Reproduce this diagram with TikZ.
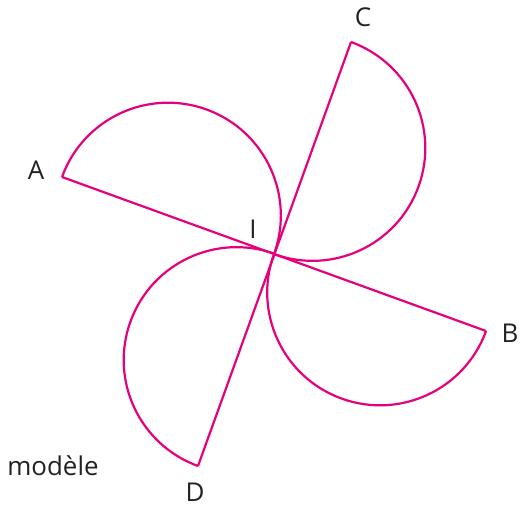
\documentclass[tikz,border=0pt]{standalone}
\usepackage{fontspec}
\setmainfont{Open Sans}
\definecolor{rose}{HTML}{E5007E}
\definecolor{ink}{HTML}{222222}
\begin{document}
\begin{tikzpicture}[x=1bp,y=-1bp,
  curve/.style={draw=rose,line width=2.2bp,line join=round},
  lab/.style={text=ink,font=\fontsize{26}{30}\selectfont,inner sep=0pt}]
\useasboundingbox (0,0) rectangle (520,506);
\coordinate (A) at (62,177);
\coordinate (B) at (486,331);
\coordinate (C) at (351,42);
\coordinate (D) at (198,466);
\coordinate (I) at (274,254);
% segments
\draw[curve] (A) -- (B);
\draw[curve] (C) -- (D);
% semicircles (angles measured with y pointing down, so signs flip)
\draw[curve] (A) arc[start angle=-160.04, end angle=19.96, radius=112.8];
\draw[curve] (I) arc[start angle=-160.04, end angle=-340.04, radius=112.8];
\draw[curve] (C) arc[start angle=-70.04, end angle=109.96, radius=112.8];
\draw[curve] (D) arc[start angle=-250.04, end angle=-70.04, radius=112.8];
% labels
\node[lab] (lA) at (36,170) {A};
\node[lab] (lB) at (510,333) {B};
\node[lab] (lC) at (363,17) {C};
\node[lab] (lD) at (195,492) {D};
\node[lab] (lI) at (253,229) {I};
\node[lab] (lm) at (53,466) {modèle};
\end{tikzpicture}
\end{document}
